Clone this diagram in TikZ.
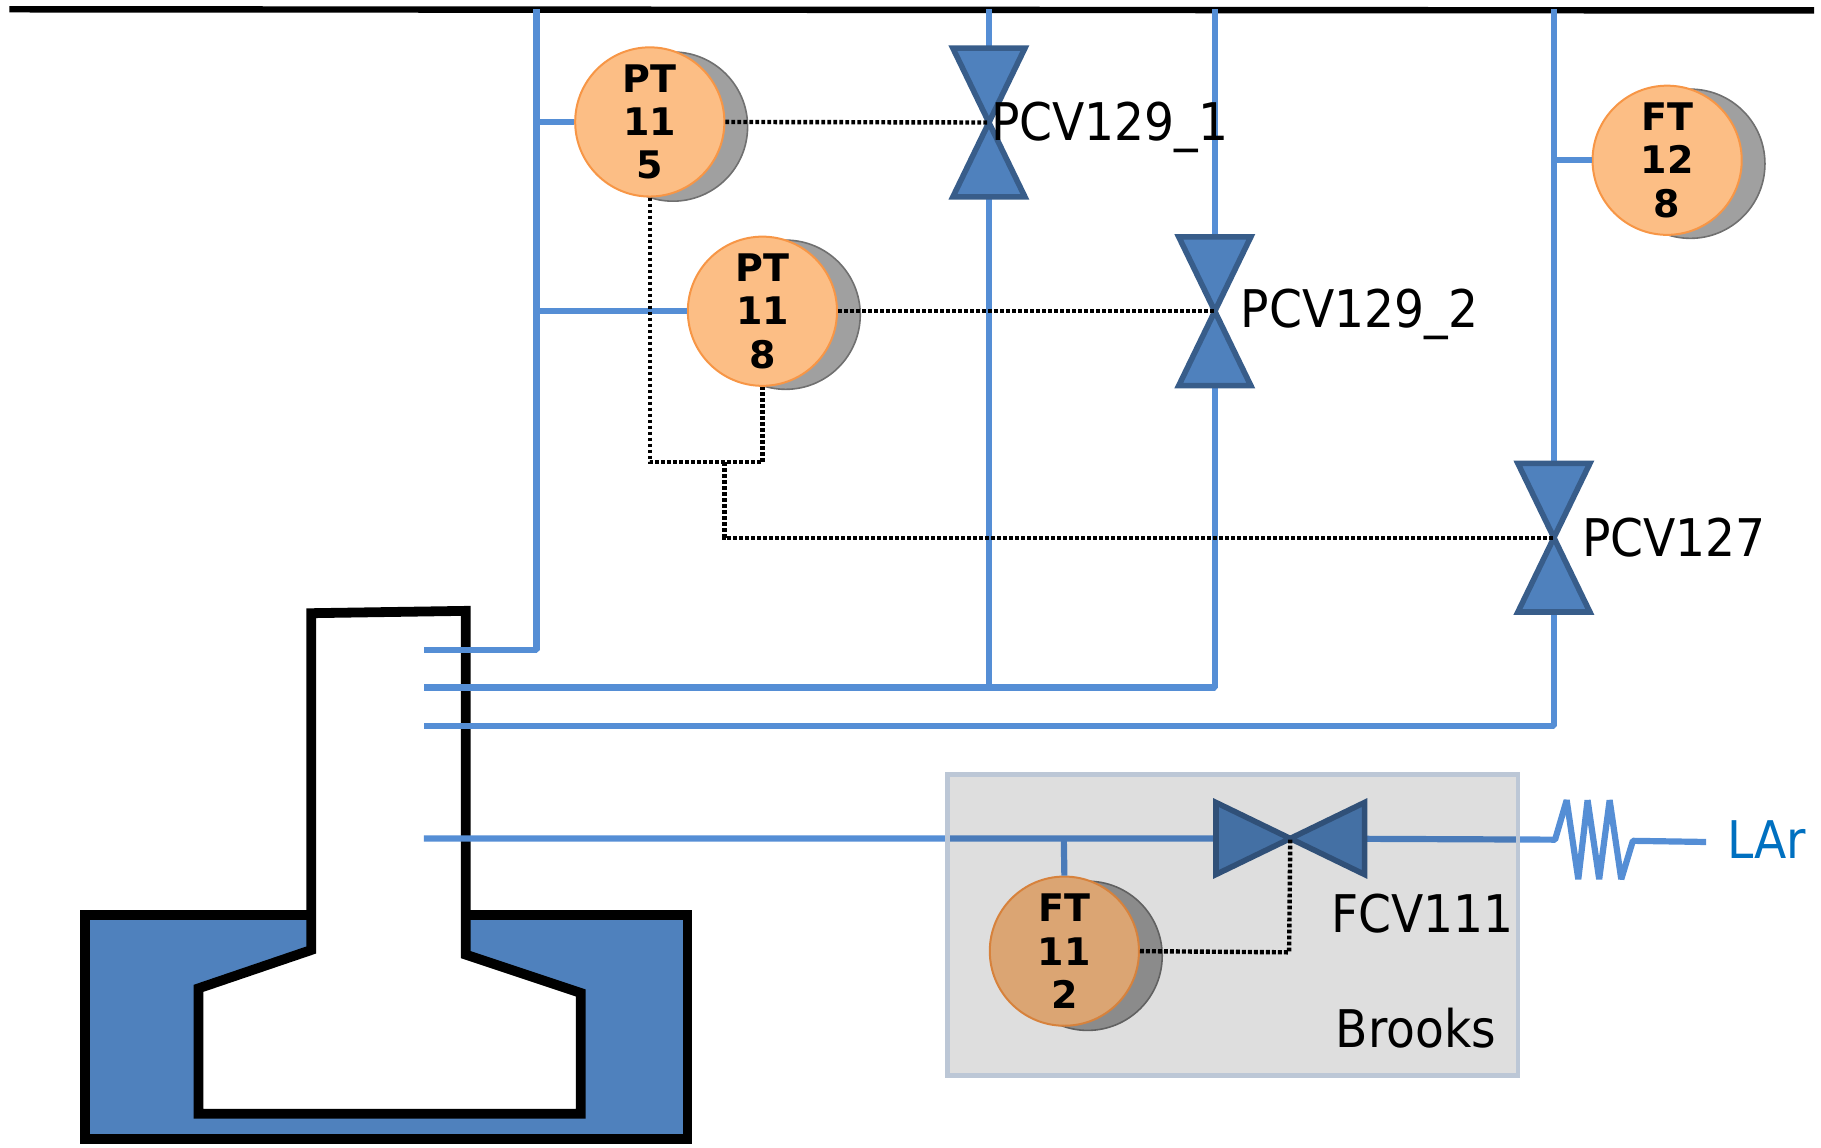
\documentclass[tikz,border=0pt]{standalone}
\usepackage{fontspec}
\setmainfont{DejaVu Sans}
\definecolor{pipe}{HTML}{558ED5}
\definecolor{valvefill}{HTML}{4F81BD}
\definecolor{valveline}{HTML}{385D8A}
\definecolor{inst}{HTML}{FCBE85}
\definecolor{instline}{HTML}{F79646}
\definecolor{shade}{HTML}{A0A0A0}
\definecolor{shadeline}{HTML}{707070}
\definecolor{boxline}{HTML}{BCC7D6}
\definecolor{lar}{HTML}{0070C0}
\tikzset{
  pipeline/.style={draw=pipe,line width=3.1pt,line join=bevel},
  signal/.style={draw=black,line width=2.2pt,dash pattern=on 1.9pt off 1.1pt},
  valveshape/.style={draw=valveline,fill=valvefill,line width=2.8pt,line join=miter},
  instr/.style={circle,draw=instline,fill=inst,line width=1pt,minimum size=74.6pt,inner sep=0pt,align=center,
    font=\fontsize{19}{21.6}\selectfont\bfseries},
  instrback/.style={circle,draw=shadeline,fill=shade,line width=0.8pt,minimum size=74.6pt,inner sep=0pt},
  tag/.style={anchor=base west,inner sep=0pt,font=\fontsize{23.6}{28}\selectfont,yscale=1.1,transform shape},
  wall/.style={draw=black,line width=4.9pt,line join=miter},
}
\newcommand{\valveV}[1]{%
  \draw[valveshape] (#1) -- ++(-31,-64) -- ++(62,0) -- cycle;
  \draw[valveshape] (#1) -- ++(-31,64) -- ++(62,0) -- cycle;}
\newcommand{\valveH}[1]{%
  \draw[valveshape] (#1) -- ++(-64,-31) -- ++(0,62) -- cycle;
  \draw[valveshape] (#1) -- ++(64,-31) -- ++(0,62) -- cycle;}
\begin{document}
\begin{tikzpicture}[x=0.5807pt,y=-0.5807pt]
\useasboundingbox (0,0) rectangle (1568,988);
% vessel
\draw[wall,fill=valvefill] (73,788) rectangle (592,981);
\draw[wall,fill=white] (268,528) -- (401,526) -- (401,822) -- (500,855) -- (500,959) -- (171,959) -- (171,851) -- (268,818) -- cycle;
% header
\coordinate (hl) at (8,8);
\coordinate (hr) at (1562,9);
\draw[black,line width=3.2pt] (hl) -- (hr);
% coordinates
\coordinate (t1) at (462,8);  \coordinate (b1) at (462,560);  \coordinate (e1) at (365,560);
\coordinate (t2) at (851.5,8);  \coordinate (b2) at (851.5,592);
\coordinate (t3) at (1046,8); \coordinate (b3) at (1046,592); \coordinate (e2) at (365,592);
\coordinate (t4) at (1338,8); \coordinate (b4) at (1338,625); \coordinate (e3) at (365,625);
\coordinate (e4) at (365,722);
\coordinate (v1) at (851.5,105.5);
\coordinate (v2) at (1046,268);
\coordinate (v3) at (1338,463);
\coordinate (v4) at (1111,722);
\coordinate (j1) at (462,105);
\coordinate (j2) at (462,268);
\coordinate (j3) at (1338,138);
\coordinate (j4) at (916,722);
\coordinate (r1) at (1339,723);
\coordinate (r2) at (1406,724);
\coordinate (r3) at (1469,725);
% pipes
\draw[pipeline] (t1) -- (b1) -- (e1);
\draw[pipeline] (t2) -- (b2);
\draw[pipeline] (t3) -- (b3) -- (e2);
\draw[pipeline] (t4) -- (b4) -- (e3);
\draw[pipeline] (e4) -- (v4) -- (r1) -- (1349,689) -- (1359,757) -- (1367,689) -- (1377,757) -- (1386,689) -- (1396,757) -- (r2) -- (r3);
% instruments
\node[instrback] (s1) at (579.5,109) {};
\node[instrback] (s2) at (676.5,271) {};
\node[instrback] (s3) at (1455.5,141) {};
\node[instrback] (s4) at (936.5,823) {};
\node[instr] (pt115) at (559.5,105) {PT\\11\\5};
\node[instr] (pt118) at (656.5,268) {PT\\11\\8};
\node[instr] (ft128) at (1435.5,138) {FT\\12\\8};
\node[instr] (ft112) at (916.5,819) {FT\\11\\2};
\draw[pipeline] (j1) -- (pt115.west);
\draw[pipeline] (j2) -- (pt118.west);
\draw[pipeline] (j3) -- (ft128.west);
\draw[pipeline] (j4) -- (ft112.north);
% valves
\valveV{v1}
\valveV{v2}
\valveV{v3}
\valveH{v4}
% Brooks box
\path[fill=black,fill opacity=0.13] (816,667) rectangle (1307,926);
\draw[boxline,line width=2.2pt] (816,667) rectangle (1307,926);
% signals
\coordinate (m1) at (559.5,398);
\coordinate (m2) at (656.5,398);
\coordinate (m3) at (624,398);
\coordinate (m4) at (624,463);
\coordinate (m5) at (1110,820);
\draw[signal] (pt115.east) -- (v1);
\draw[signal] (pt118.east) -- (v2);
\draw[signal] (pt115.south) -- (m1) -- (m2) -- (pt118.south);
\draw[signal] (m3) -- (m4) -- (v3);
\draw[signal] (ft112.east) -- (m5) -- (v4);
% labels
\node[tag] (l1) at (853,121) {PCV129\_1};
\node[tag] (l2) at (1068,282) {PCV129\_2};
\node[tag] (l3) at (1362,479) {PCV127};
\node[tag] (l4) at (1146,803) {FCV111};
\node[tag] (l5) at (1150,902) {Brooks};
\node[tag,text=lar] (l6) at (1487,739) {LAr};
\end{tikzpicture}
\end{document}
